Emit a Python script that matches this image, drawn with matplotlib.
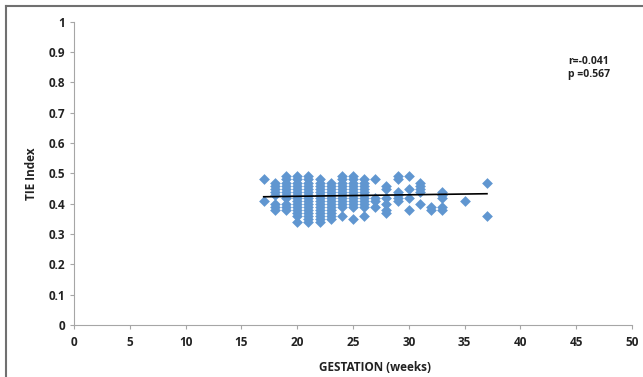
import matplotlib.pyplot as plt
from matplotlib.lines import Line2D

plt.rcParams['font.family'] = ['Open Sans', 'DejaVu Sans']

# gestation week -> TIE index values
weeks = [17, 18, 19, 20, 21, 22, 23, 24, 25, 26, 27, 28, 29, 30, 31, 32, 33, 35, 37]
tie = [
    [0.48, 0.41],
    [0.47, 0.46, 0.45, 0.44, 0.43, 0.40, 0.39, 0.38],
    [0.49, 0.48, 0.47, 0.46, 0.45, 0.44, 0.43, 0.42, 0.40, 0.39, 0.38],
    [0.49, 0.48, 0.47, 0.46, 0.45, 0.44, 0.43, 0.42, 0.41, 0.40, 0.39, 0.38, 0.37, 0.36, 0.34],
    [0.49, 0.48, 0.47, 0.46, 0.45, 0.44, 0.43, 0.42, 0.41, 0.40, 0.39, 0.38, 0.37, 0.36, 0.35, 0.34],
    [0.48, 0.47, 0.46, 0.45, 0.44, 0.43, 0.42, 0.41, 0.40, 0.39, 0.38, 0.37, 0.36, 0.35, 0.34],
    [0.47, 0.46, 0.45, 0.44, 0.43, 0.42, 0.41, 0.40, 0.39, 0.38, 0.37, 0.36, 0.35],
    [0.49, 0.48, 0.47, 0.46, 0.45, 0.44, 0.43, 0.42, 0.41, 0.40, 0.39, 0.36],
    [0.49, 0.48, 0.47, 0.46, 0.45, 0.44, 0.43, 0.42, 0.41, 0.40, 0.39, 0.35],
    [0.48, 0.47, 0.46, 0.45, 0.44, 0.43, 0.42, 0.41, 0.40, 0.39, 0.36],
    [0.48, 0.42, 0.41, 0.39],
    [0.46, 0.45, 0.42, 0.40, 0.38, 0.37],
    [0.49, 0.48, 0.44, 0.43, 0.42, 0.41],
    [0.49, 0.45, 0.42, 0.38],
    [0.47, 0.46, 0.45, 0.44, 0.40],
    [0.39, 0.38],
    [0.44, 0.43, 0.42, 0.39, 0.38],
    [0.41],
    [0.47, 0.36],
]
trend_x = [17, 37]
trend_y = [0.423, 0.433]

xs = [w for w, vals in zip(weeks, tie) for _ in vals]
ys = [v for vals in tie for v in vals]

fig = plt.figure(figsize=(6.43, 3.77), dpi=100)
ax = fig.add_axes([0.115, 0.138, 0.868, 0.804])

ax.scatter(xs, ys, marker='D', s=30, color='#6096D0', linewidths=0, zorder=2)
ax.plot(trend_x, trend_y, color='black', lw=1.2, zorder=3)

ax.set_xlim(0, 50)
ax.set_ylim(0, 1)
ax.set_xticks(range(0, 51, 5))
ax.set_yticks([i / 10 for i in range(11)])
ax.set_yticklabels(['0', '0.1', '0.2', '0.3', '0.4', '0.5', '0.6', '0.7', '0.8', '0.9', '1'])
for s in ['top', 'right']:
    ax.spines[s].set_visible(False)
for s in ['left', 'bottom']:
    ax.spines[s].set_color('#A6A6A6')
ax.tick_params(colors='#A6A6A6', length=3, labelcolor='#222222', labelsize=8.5)
for lbl in ax.get_xticklabels() + ax.get_yticklabels():
    lbl.set_fontweight('bold')
ax.tick_params(axis='x', pad=5)

ax.set_xlabel('GESTATION (weeks)', fontsize=8.5, fontweight='bold', color='#222222')
ax.xaxis.set_label_coords(0.54, -0.12)
ax.set_ylabel('TIE Index', fontsize=8.5, fontweight='bold', color='#222222')
ax.yaxis.set_label_coords(-0.065, 0.5)

ax.text(44.3, 0.848, 'r=-0.041\np =0.567', fontsize=7.5, fontweight='bold',
        color='#222222', va='center', linespacing=1.25)

# frame of the original figure (left and top edges)
fig.add_artist(Line2D([6 / 643, 6 / 643], [0, 1 - 6 / 377], color='#707070', lw=1.5))
fig.add_artist(Line2D([6 / 643, 1], [1 - 6 / 377, 1 - 6 / 377], color='#707070', lw=1.5))

fig.savefig('out.png', dpi=100)
